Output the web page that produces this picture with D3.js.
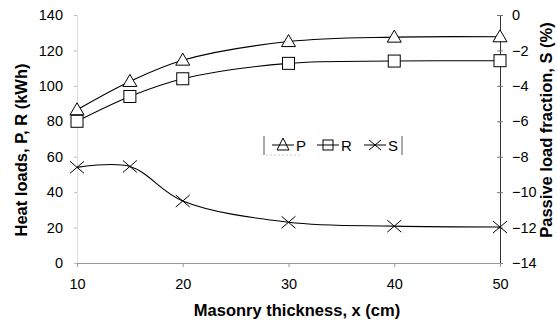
<!DOCTYPE html>
<html>
<head>
<meta charset="utf-8">
<script src="https://cdn.jsdelivr.net/npm/d3@7"></script>
<style>
  body { margin: 0; background: #fff; }
  text { font-family: "Liberation Sans", Arial, sans-serif; fill: #000; }
</style>
</head>
<body>
<svg id="chart" width="557" height="324"></svg>
<script>
const SVG = d3.select('#chart');

// 数据
const thickness = [10, 15, 20, 30, 40, 50];
const P_values = [86.5, 102.5, 114.5, 125, 127.5, 127.7];
const R_values = [80, 94, 104, 112.7, 114, 114.2];
const S_values = [-8.6, -8.55, -10.5, -11.7, -11.92, -11.97];
const left_ticks = [0, 20, 40, 60, 80, 100, 120, 140];
const right_ticks = [0, -2, -4, -6, -8, -10, -12, -14];
const x_ticks = [10, 20, 30, 40, 50];

const X_SCALE = d3.scaleLinear().domain([10, 50]).range([77, 500]);
const Y_LEFT = d3.scaleLinear().domain([0, 140]).range([263, 15]);
const Y_RIGHT = d3.scaleLinear().domain([-14, 0]).range([263, 15]);
const TICK_SIZE = 14.5;
const TITLE_SIZE = 16.5;

let g = SVG.append("g");

/** 坐标轴 **/
const left_axis = d3.axisLeft(Y_LEFT).tickValues(left_ticks).tickSize(3).tickPadding(11);
const right_axis = d3.axisRight(Y_RIGHT).tickValues(right_ticks).tickSize(3).tickPadding(9);
const bottom_axis = d3.axisBottom(X_SCALE).tickValues(x_ticks).tickSize(4).tickPadding(12);

let ax_l = g.append("g").attr("transform", "translate(77,0)").call(left_axis);
let ax_r = g.append("g").attr("transform", "translate(500,0)").call(right_axis);
let ax_b = g.append("g").attr("transform", "translate(0,263)").call(bottom_axis);
for (let ax of [ax_l, ax_r, ax_b]) {
    ax.selectAll("text").attr("font-size", TICK_SIZE).style("font-family", "Liberation Sans, Arial, sans-serif");
}
ax_l.select(".domain").attr("stroke", "#ddd");
ax_l.selectAll(".tick line").attr("stroke", "#bbb");
ax_r.select(".domain").attr("stroke", "#333");
ax_r.selectAll(".tick line").attr("stroke", "#777").attr("x1", -3);
ax_b.select(".domain").attr("stroke", "#999");
ax_b.selectAll(".tick line").attr("stroke", "#999");

/** 线 **/
const line_left = d3.line()
    .x((d, i) => X_SCALE(thickness[i]))
    .y(d => Y_LEFT(d))
    .curve(d3.curveCatmullRom.alpha(0.5));
const line_right = d3.line()
    .x((d, i) => X_SCALE(thickness[i]))
    .y(d => Y_RIGHT(d))
    .curve(d3.curveCatmullRom.alpha(0.5));

g.append("path").attr("d", line_left(P_values)).attr("fill", "none").attr("stroke", "#000").attr("stroke-width", 1.1);
g.append("path").attr("d", line_left(R_values)).attr("fill", "none").attr("stroke", "#000").attr("stroke-width", 1.1);
g.append("path").attr("d", line_right(S_values)).attr("fill", "none").attr("stroke", "#000").attr("stroke-width", 1.1);

/** 标记 **/
function triangle(sel, x, y) {
    sel.append("path")
        .attr("d", `M${x},${y - 7}L${x + 7},${y + 5}L${x - 7},${y + 5}Z`)
        .attr("fill", "#fff").attr("stroke", "#000").attr("stroke-width", 1);
}
function square(sel, x, y) {
    sel.append("rect")
        .attr("x", x - 6).attr("y", y - 6).attr("width", 12).attr("height", 12)
        .attr("fill", "#fff").attr("stroke", "#000").attr("stroke-width", 1);
}
function cross(sel, x, y) {
    sel.append("path")
        .attr("d", `M${x - 7},${y - 6}L${x + 7},${y + 6}M${x - 7},${y + 6}L${x + 7},${y - 6}`)
        .attr("stroke", "#000").attr("stroke-width", 1);
}
thickness.forEach((t, i) => {
    triangle(g, X_SCALE(t), Y_LEFT(P_values[i]));
    square(g, X_SCALE(t), Y_LEFT(R_values[i]));
    cross(g, X_SCALE(t), Y_RIGHT(S_values[i]));
});

/** 图例 **/
const LEG_Y = 145;
let leg = g.append("g");
leg.append("line").attr("x1", 264).attr("x2", 264).attr("y1", 136).attr("y2", 155).attr("stroke", "#555");
leg.append("line").attr("x1", 402).attr("x2", 402).attr("y1", 136).attr("y2", 155).attr("stroke", "#555");
leg.append("line").attr("x1", 266).attr("x2", 300).attr("y1", 155).attr("y2", 155).attr("stroke", "#ccc").attr("stroke-dasharray", "2,2");
const legend_names = ["P", "R", "S"];
const legend_x = [283, 328, 375];
legend_names.forEach((name, i) => {
    let x = legend_x[i];
    leg.append("line").attr("x1", x - 11).attr("x2", x + 11).attr("y1", LEG_Y).attr("y2", LEG_Y).attr("stroke", "#000");
    if (name === "R") {
        leg.append("rect").attr("x", x - 5).attr("y", LEG_Y - 5).attr("width", 10).attr("height", 10)
            .attr("fill", "none").attr("stroke", "#000");
    } else if (name === "P") {
        leg.append("path").attr("d", `M${x},${LEG_Y - 7}L${x + 6},${LEG_Y + 5}L${x - 6},${LEG_Y + 5}Z`)
            .attr("fill", "none").attr("stroke", "#000");
    } else {
        leg.append("path").attr("d", `M${x - 6},${LEG_Y - 5}L${x + 6},${LEG_Y + 5}M${x - 6},${LEG_Y + 5}L${x + 6},${LEG_Y - 5}`)
            .attr("stroke", "#000");
    }
    leg.append("text").text(name).attr("x", x + 13).attr("y", LEG_Y + 5.5).attr("font-size", 15);
});

/** 标题 **/
g.append("text").text("Masonry thickness, x (cm)")
    .attr("x", 297).attr("y", 316).attr("text-anchor", "middle")
    .attr("font-size", TITLE_SIZE).attr("font-weight", "bold");
g.append("text").text("Heat loads, P, R (kWh)")
    .attr("transform", "translate(27,150) rotate(-90)").attr("text-anchor", "middle")
    .attr("font-size", TITLE_SIZE).attr("font-weight", "bold");
g.append("text").text("Passive load fraction, S (%)")
    .attr("transform", "translate(552,130) rotate(-90)").attr("text-anchor", "middle")
    .attr("font-size", TITLE_SIZE).attr("font-weight", "bold");
</script>
</body>
</html>
